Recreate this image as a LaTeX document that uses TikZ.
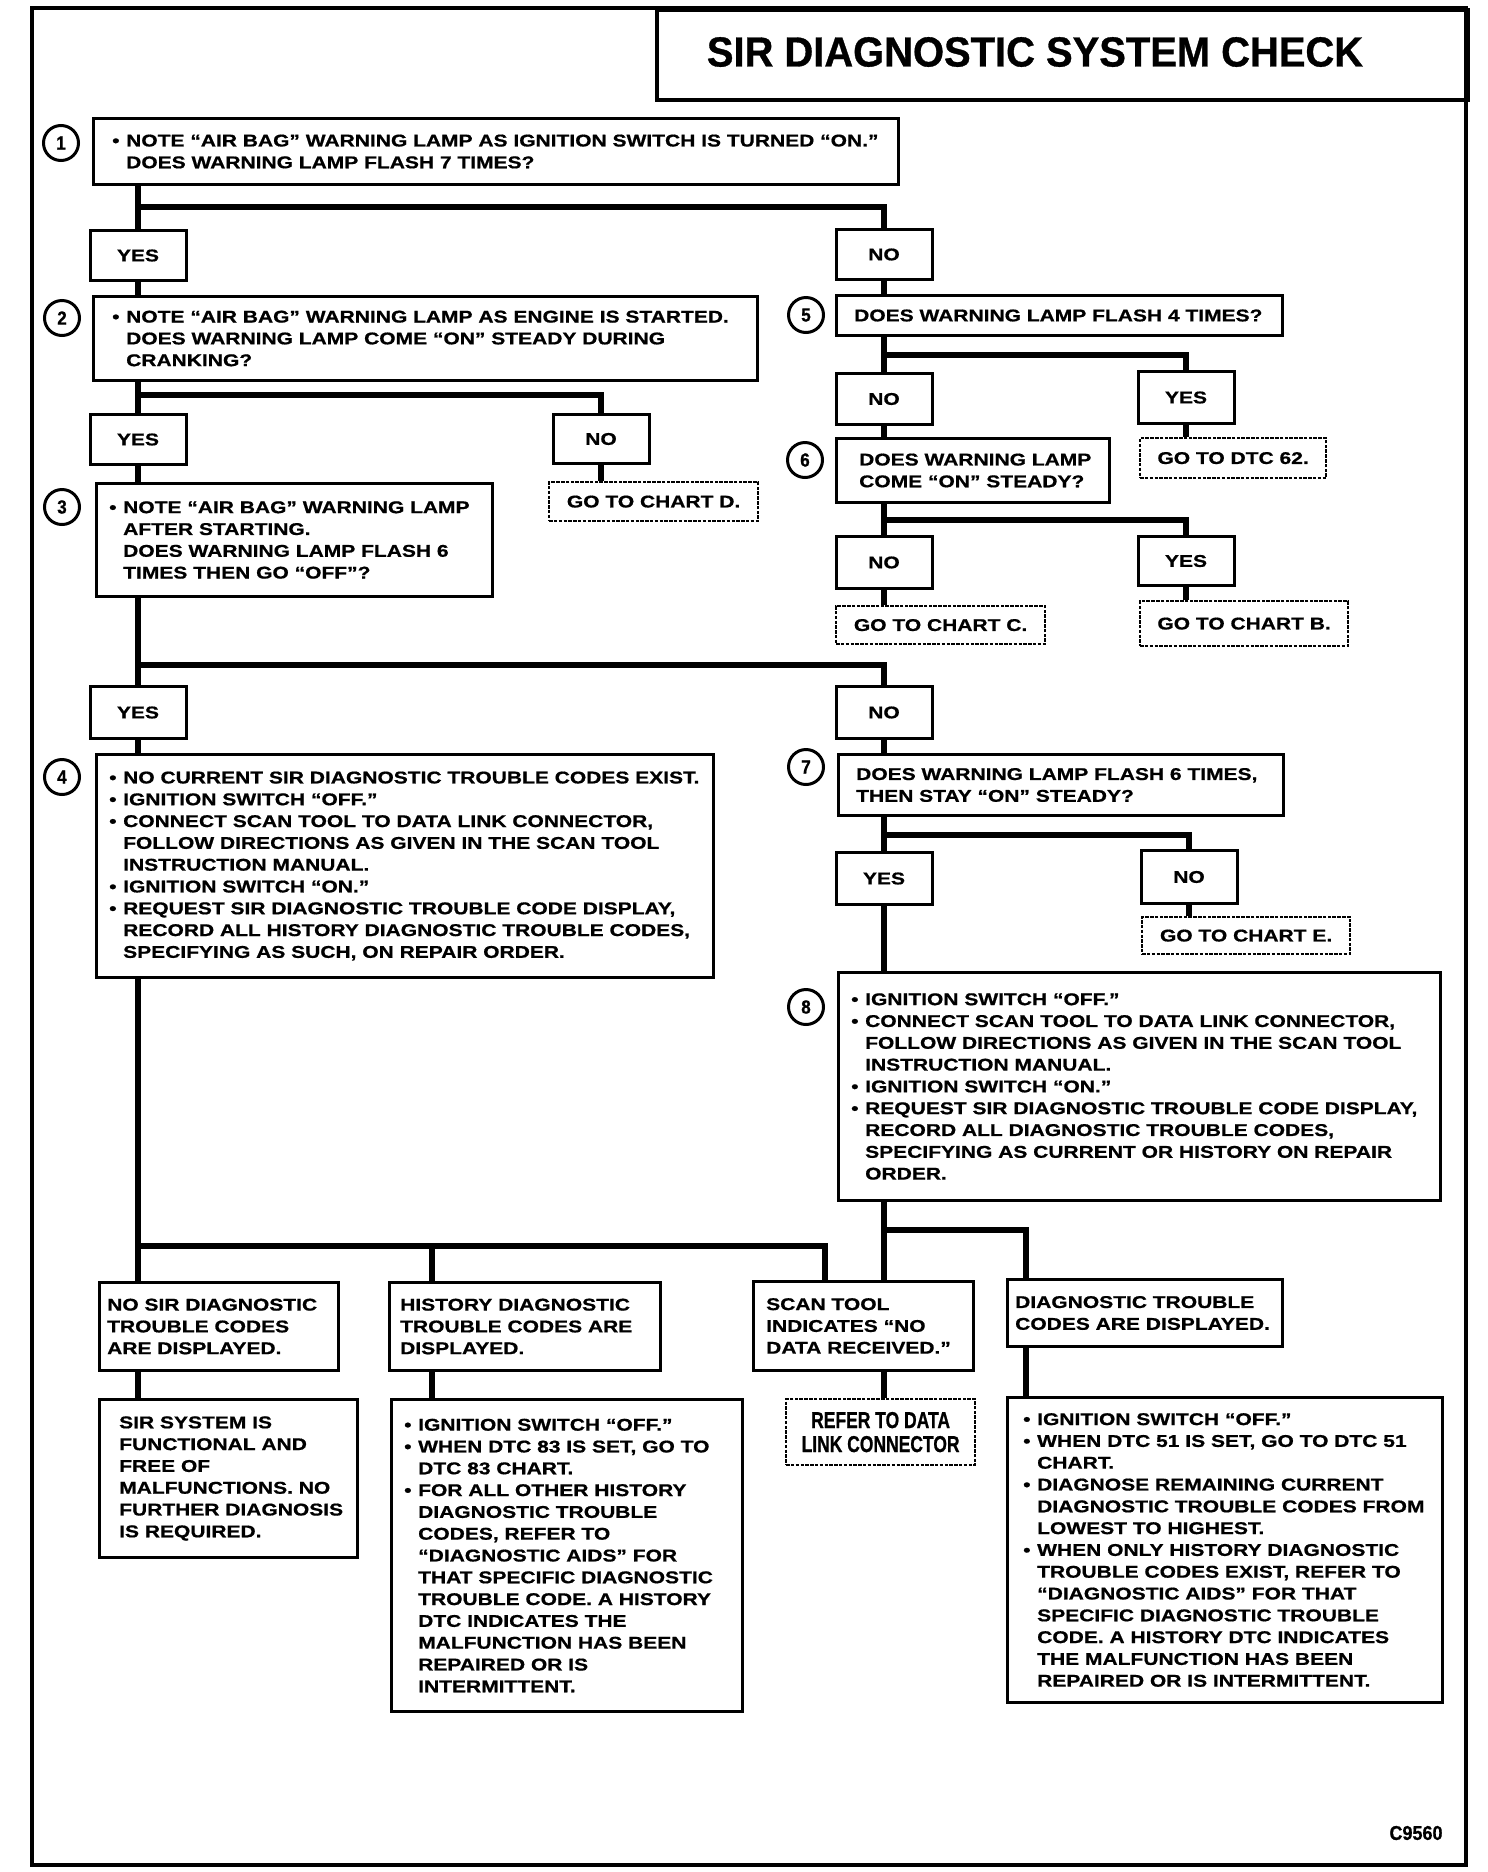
\documentclass[tikz,border=0pt]{standalone}
\usepackage{fontspec}
\setmainfont{Liberation Sans}
\newfontfamily\bodyf[FakeStretch=1.235, FakeBold=0.8]{Liberation Sans}
\newfontfamily\titlef[FakeStretch=0.95, FakeBold=0.8]{Liberation Sans}
\newfontfamily\condf[FakeStretch=0.76, FakeBold=0.8]{Liberation Sans}
\newfontfamily\numf[FakeStretch=0.9, FakeBold=0.8]{Liberation Sans}
\newcommand\bulx{\makebox[14pt][l]{•}}
\newcommand\indx{\hspace*{14pt}}
\tikzset{
  bodyfont/.style={font=\bodyf\bfseries\fontsize{17}{21.8}\selectfont},
  bx/.style={draw, line width=3pt, rectangle, inner sep=0pt, anchor=north west},
  tx/.style={bodyfont, inner sep=0pt, align=left, anchor=west},
  lbl/.style={draw, line width=3pt, rectangle, inner sep=0pt, minimum width=96pt, anchor=north, bodyfont},
  dbx/.style={draw, line width=2.2pt, dash pattern=on 3.5pt off 1.3pt, rectangle, inner sep=0pt, anchor=north west, bodyfont, align=center},
  vl/.style={line width=5.5pt},
  hb/.style={line width=6.5pt},
  circ/.style={circle, draw, line width=3pt, minimum size=35pt, inner sep=0pt, font=\numf\bfseries\fontsize{19}{19}\selectfont},
}
\begin{document}
\begin{tikzpicture}[x=1pt, y=-1pt]
\useasboundingbox (0,0) rectangle (1488,1872);
% frame and title
\draw[line width=3.5pt] (32,8) rectangle (1466,1865);
\node[bx, line width=3.5pt, minimum width=811pt, minimum height=90pt] (TB) at (655,8) {};
\node[font=\titlef\bfseries\fontsize{42}{42}\selectfont, inner sep=0pt] (Ttl) at (1035,52) {SIR DIAGNOSTIC SYSTEM CHECK};
% column coordinates
\coordinate (cL) at (138,0);
\coordinate (cR) at (884,0);
\coordinate (cH) at (432,0);
\coordinate (cS) at (825,0);
\coordinate (cD) at (1026,0);
% circles
\node[circ] (C1) at (61,143) {1};
\node[circ] (C2) at (62,318) {2};
\node[circ] (C3) at (62,507) {3};
\node[circ] (C4) at (62,777) {4};
\node[circ] (C5) at (806,315) {5};
\node[circ] (C6) at (805,460) {6};
\node[circ] (C7) at (806,767) {7};
\node[circ] (C8) at (806,1007) {8};
% left column boxes
\node[bx, minimum width=805pt, minimum height=66pt] (B1) at (92,117) {};
\node[tx] (T1) at ([xshift=20pt]B1.west) {\bulx NOTE “AIR BAG” WARNING LAMP AS IGNITION SWITCH IS TURNED “ON.”\\
\indx DOES WARNING LAMP FLASH 7 TIMES?};
\node[lbl, minimum height=50pt] (YES1) at (138,229) {YES};
\node[lbl, minimum height=50pt] (NO1) at (884,228) {NO};
\node[bx, minimum width=664pt, minimum height=84pt] (B2) at (92,295) {};
\node[tx] (T2) at ([xshift=20pt]B2.west) {\bulx NOTE “AIR BAG” WARNING LAMP AS ENGINE IS STARTED.\\
\indx DOES WARNING LAMP COME “ON” STEADY DURING\\
\indx CRANKING?};
\node[lbl, minimum height=50pt] (YES2) at (138,413) {YES};
\node[lbl, minimum height=49pt] (NO2) at (601,413) {NO};
\node[dbx, minimum width=209pt, minimum height=39pt] (GOD) at (548,481) {GO TO CHART D.};
\node[bx, minimum width=396pt, minimum height=113pt] (B3) at (95,482) {};
\node[tx] (T3) at ([xshift=14pt]B3.west) {\bulx NOTE “AIR BAG” WARNING LAMP\\
\indx AFTER STARTING.\\
\indx DOES WARNING LAMP FLASH 6\\
\indx TIMES THEN GO “OFF”?};
\node[lbl, minimum height=52pt] (YES3) at (138,685) {YES};
\node[lbl, minimum height=52pt] (NO3) at (884,685) {NO};
\node[bx, minimum width=617pt, minimum height=223pt] (B4) at (95,753) {};
\node[tx] (T4) at ([xshift=14pt]B4.west) {\bulx NO CURRENT SIR DIAGNOSTIC TROUBLE CODES EXIST.\\
\bulx IGNITION SWITCH “OFF.”\\
\bulx CONNECT SCAN TOOL TO DATA LINK CONNECTOR,\\
\indx FOLLOW DIRECTIONS AS GIVEN IN THE SCAN TOOL\\
\indx INSTRUCTION MANUAL.\\
\bulx IGNITION SWITCH “ON.”\\
\bulx REQUEST SIR DIAGNOSTIC TROUBLE CODE DISPLAY,\\
\indx RECORD ALL HISTORY DIAGNOSTIC TROUBLE CODES,\\
\indx SPECIFYING AS SUCH, ON REPAIR ORDER.};
% right column boxes
\node[bx, minimum width=446pt, minimum height=40pt] (B5) at (835,294) {};
\node[tx] (T5) at ([xshift=19pt]B5.west) {DOES WARNING LAMP FLASH 4 TIMES?};
\node[lbl, minimum height=51pt] (NO5) at (884,372) {NO};
\node[lbl, minimum height=52pt] (YES5) at (1186,370) {YES};
\node[dbx, minimum width=186pt, minimum height=40pt] (GO62) at (1139,437) {GO TO DTC 62.};
\node[bx, minimum width=273pt, minimum height=64pt] (B6) at (835,437) {};
\node[tx] (T6) at ([xshift=24pt]B6.west) {DOES WARNING LAMP\\COME “ON” STEADY?};
\node[lbl, minimum height=52pt] (NO6) at (884,535) {NO};
\node[lbl, minimum height=49pt] (YES6) at (1186,535) {YES};
\node[dbx, minimum width=209pt, minimum height=38pt] (GOC) at (835,605) {GO TO CHART C.};
\node[dbx, minimum width=208pt, minimum height=45pt] (GOB) at (1139,600) {GO TO CHART B.};
\node[bx, minimum width=445pt, minimum height=61pt] (B7) at (837,753) {};
\node[tx] (T7) at ([xshift=19pt]B7.west) {DOES WARNING LAMP FLASH 6 TIMES,\\THEN STAY “ON” STEADY?};
\node[lbl, minimum height=52pt] (YES7) at (884,851) {YES};
\node[lbl, minimum height=53pt] (NO7) at (1189,849) {NO};
\node[dbx, minimum width=208pt, minimum height=37pt] (GOE) at (1141,916) {GO TO CHART E.};
\node[bx, minimum width=602pt, minimum height=228pt] (B8) at (837,971) {};
\node[tx] (T8) at ([xshift=14pt]B8.west) {\bulx IGNITION SWITCH “OFF.”\\
\bulx CONNECT SCAN TOOL TO DATA LINK CONNECTOR,\\
\indx FOLLOW DIRECTIONS AS GIVEN IN THE SCAN TOOL\\
\indx INSTRUCTION MANUAL.\\
\bulx IGNITION SWITCH “ON.”\\
\bulx REQUEST SIR DIAGNOSTIC TROUBLE CODE DISPLAY,\\
\indx RECORD ALL DIAGNOSTIC TROUBLE CODES,\\
\indx SPECIFYING AS CURRENT OR HISTORY ON REPAIR\\
\indx ORDER.};
% bottom row
\node[bx, minimum width=239pt, minimum height=88pt] (NOSIR) at (98,1281) {};
\node[tx] (TNS) at ([xshift=9pt]NOSIR.west) {NO SIR DIAGNOSTIC\\TROUBLE CODES\\ARE DISPLAYED.};
\node[bx, minimum width=271pt, minimum height=88pt] (HIST) at (388,1281) {};
\node[tx] (THI) at ([xshift=12pt]HIST.west) {HISTORY DIAGNOSTIC\\TROUBLE CODES ARE\\DISPLAYED.};
\node[bx, minimum width=220pt, minimum height=89pt] (SCAN) at (752,1280) {};
\node[tx] (TSC) at ([xshift=14pt]SCAN.west) {SCAN TOOL\\INDICATES “NO\\DATA RECEIVED.”};
\node[bx, minimum width=275pt, minimum height=67pt] (DTC) at (1006,1278) {};
\node[tx] (TDT) at ([xshift=9pt]DTC.west) {DIAGNOSTIC TROUBLE\\CODES ARE DISPLAYED.};
\node[bx, minimum width=258pt, minimum height=158pt] (SIRSYS) at (98,1398) {};
\node[tx] (TSS) at ([xshift=21pt]SIRSYS.west) {SIR SYSTEM IS\\FUNCTIONAL AND\\FREE OF\\MALFUNCTIONS. NO\\FURTHER DIAGNOSIS\\IS REQUIRED.};
\node[bx, minimum width=351pt, minimum height=312pt] (HISTB) at (390,1398) {};
\node[tx] (THB) at ([xshift=14pt]HISTB.west) {\bulx IGNITION SWITCH “OFF.”\\
\bulx WHEN DTC 83 IS SET, GO TO\\
\indx DTC 83 CHART.\\
\bulx FOR ALL OTHER HISTORY\\
\indx DIAGNOSTIC TROUBLE\\
\indx CODES, REFER TO\\
\indx “DIAGNOSTIC AIDS” FOR\\
\indx THAT SPECIFIC DIAGNOSTIC\\
\indx TROUBLE CODE. A HISTORY\\
\indx DTC INDICATES THE\\
\indx MALFUNCTION HAS BEEN\\
\indx REPAIRED OR IS\\
\indx INTERMITTENT.};
\node[dbx, minimum width=189pt, minimum height=66pt, font=\condf\bfseries\fontsize{23}{24}\selectfont] (REFER) at (785,1398) {REFER TO DATA\\LINK CONNECTOR};
\node[bx, minimum width=435pt, minimum height=305pt] (DTCB) at (1006,1396) {};
\node[tx] (TDB) at ([xshift=17pt]DTCB.west) {\bulx IGNITION SWITCH “OFF.”\\
\bulx WHEN DTC 51 IS SET, GO TO DTC 51\\
\indx CHART.\\
\bulx DIAGNOSE REMAINING CURRENT\\
\indx DIAGNOSTIC TROUBLE CODES FROM\\
\indx LOWEST TO HIGHEST.\\
\bulx WHEN ONLY HISTORY DIAGNOSTIC\\
\indx TROUBLE CODES EXIST, REFER TO\\
\indx “DIAGNOSTIC AIDS” FOR THAT\\
\indx SPECIFIC DIAGNOSTIC TROUBLE\\
\indx CODE. A HISTORY DTC INDICATES\\
\indx THE MALFUNCTION HAS BEEN\\
\indx REPAIRED OR IS INTERMITTENT.};
\node[font=\numf\bfseries\fontsize{20}{20}\selectfont, inner sep=0pt] (CODE) at (1416,1833) {C9560};
% connectors: left column
\coordinate (j1) at (138,207);
\coordinate (j2) at (138,395);
\coordinate (j3) at (138,665);
\coordinate (jb) at (138,1246);
\draw[vl] (B1.south -| YES1.north) -- (YES1.north);
\draw[hb] (j1) -| (NO1.north);
\draw[vl] (YES1.south) -- (B2.north -| YES1.south);
\draw[vl] (B2.south -| YES2.north) -- (YES2.north);
\draw[hb] (j2) -| (NO2.north);
\draw[vl] (NO2.south) -- (GOD.north -| NO2.south);
\draw[vl] (YES2.south) -- (B3.north -| YES2.south);
\draw[vl] (B3.south -| YES3.north) -- (YES3.north);
\draw[hb] (j3) -| (NO3.north);
\draw[vl] (YES3.south) -- (B4.north -| YES3.south);
\draw[vl] (B4.south -| cL) -- (NOSIR.north -| cL);
\draw[hb] (jb) -| (SCAN.north -| cS);
\draw[vl] (cH |- jb) -- (HIST.north -| cH);
\draw[vl] (NOSIR.south -| cL) -- (SIRSYS.north -| cL);
\draw[vl] (HIST.south -| cH) -- (HISTB.north -| cH);
% connectors: right column
\coordinate (j5) at (884,355);
\coordinate (j6) at (884,520);
\coordinate (j7) at (884,835);
\coordinate (jr) at (884,1230);
\draw[vl] (NO1.south) -- (B5.north -| NO1.south);
\draw[vl] (B5.south -| cR) -- (NO5.north);
\draw[hb] (j5) -| (YES5.north);
\draw[vl] (YES5.south) -- (GO62.north -| YES5.south);
\draw[vl] (NO5.south) -- (B6.north -| NO5.south);
\draw[vl] (B6.south -| cR) -- (NO6.north);
\draw[hb] (j6) -| (YES6.north);
\draw[vl] (NO6.south) -- (GOC.north -| NO6.south);
\draw[vl] (YES6.south) -- (GOB.north -| YES6.south);
\draw[vl] (NO3.south) -- (B7.north -| NO3.south);
\draw[vl] (B7.south -| cR) -- (YES7.north);
\draw[hb] (j7) -| (NO7.north);
\draw[vl] (NO7.south) -- (GOE.north -| NO7.south);
\draw[vl] (YES7.south) -- (B8.north -| YES7.south);
\draw[vl] (B8.south -| cR) -- (SCAN.north -| cR);
\draw[hb] (jr) -| (DTC.north -| cD);
\draw[vl] (SCAN.south -| cR) -- (REFER.north -| cR);
\draw[vl] (DTC.south -| cD) -- (DTCB.north -| cD);
\end{tikzpicture}
\end{document}
